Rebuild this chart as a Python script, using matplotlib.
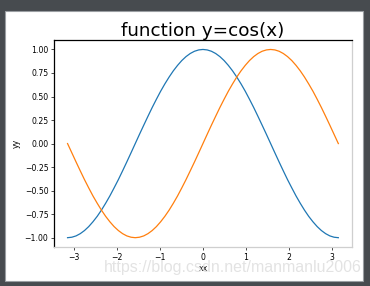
import matplotlib
matplotlib.use("Agg")
import matplotlib.pyplot as plt
from matplotlib.patches import Rectangle

x_vals = [-3.142, -3.043, -2.945, -2.847, -2.749, -2.651, -2.553, -2.454,
          -2.356, -2.258, -2.160, -2.062, -1.963, -1.865, -1.767, -1.669,
          -1.571, -1.473, -1.374, -1.276, -1.178, -1.080, -0.982, -0.884,
          -0.785, -0.687, -0.589, -0.491, -0.393, -0.295, -0.196, -0.098,
          0.000,
          0.098, 0.196, 0.295, 0.393, 0.491, 0.589, 0.687, 0.785,
          0.884, 0.982, 1.080, 1.178, 1.276, 1.374, 1.473, 1.571,
          1.669, 1.767, 1.865, 1.963, 2.062, 2.160, 2.258, 2.356,
          2.454, 2.553, 2.651, 2.749, 2.847, 2.945, 3.043, 3.142]
cos_vals = [-1.000, -0.995, -0.981, -0.957, -0.924, -0.882, -0.831, -0.773,
            -0.707, -0.634, -0.556, -0.471, -0.383, -0.290, -0.195, -0.098,
            0.000, 0.098, 0.195, 0.290, 0.383, 0.471, 0.556, 0.634,
            0.707, 0.773, 0.831, 0.882, 0.924, 0.957, 0.981, 0.995,
            1.000,
            0.995, 0.981, 0.957, 0.924, 0.882, 0.831, 0.773, 0.707,
            0.634, 0.556, 0.471, 0.383, 0.290, 0.195, 0.098, 0.000,
            -0.098, -0.195, -0.290, -0.383, -0.471, -0.556, -0.634, -0.707,
            -0.773, -0.831, -0.882, -0.924, -0.957, -0.981, -0.995, -1.000]
sin_vals = [0.000, -0.098, -0.195, -0.290, -0.383, -0.471, -0.556, -0.634,
            -0.707, -0.773, -0.831, -0.882, -0.924, -0.957, -0.981, -0.995,
            -1.000, -0.995, -0.981, -0.957, -0.924, -0.882, -0.831, -0.773,
            -0.707, -0.634, -0.556, -0.471, -0.383, -0.290, -0.195, -0.098,
            0.000,
            0.098, 0.195, 0.290, 0.383, 0.471, 0.556, 0.634, 0.707,
            0.773, 0.831, 0.882, 0.924, 0.957, 0.981, 0.995, 1.000,
            0.995, 0.981, 0.957, 0.924, 0.882, 0.831, 0.773, 0.707,
            0.634, 0.556, 0.471, 0.383, 0.290, 0.195, 0.098, 0.000]

x_ticks = [-3, -2, -1, 0, 1, 2, 3]
y_ticks = [-1.00, -0.75, -0.50, -0.25, 0.00, 0.25, 0.50, 0.75, 1.00]

fig = plt.figure(figsize=(3.70, 2.86), dpi=100, facecolor="#474b4f")
# white window content with a thin light border, kept behind the axes
fig.patches.append(Rectangle((0.0122, 0.0192), 0.9676, 0.9406,
                             transform=fig.transFigure, facecolor="white",
                             edgecolor="#9a9ea2", linewidth=0.8, zorder=-5))

ax = fig.add_axes([0.146, 0.136, 0.805, 0.724])
ax.set_facecolor("none")
ax.plot(x_vals, cos_vals, color="#1f77b4", linewidth=0.9)
ax.plot(x_vals, sin_vals, color="#ff7f0e", linewidth=0.9)

ax.set_xticks(x_ticks)
ax.set_yticks(y_ticks)
ax.set_yticklabels([f"{v:.2f}".replace("-", "\u2212") for v in y_ticks])
ax.tick_params(labelsize=5.6, length=2.0, width=0.5, pad=2)

ax.set_title("function y=cos(x)", fontsize=13.2, pad=2)
ax.set_xlabel("xx", fontsize=5.6, labelpad=2)
ax.set_ylabel("yy", fontsize=5.6, labelpad=3)

for side in ["top", "left"]:
    ax.spines[side].set_color("black")
    ax.spines[side].set_linewidth(0.9)
for side in ["bottom", "right"]:
    ax.spines[side].set_color("#cfcfcf")
    ax.spines[side].set_linewidth(0.9)

# blog watermark
fig.text(0.630, 0.066, "https://blog.csdn.net/manmanlu2006", fontsize=11.5,
         family="Liberation Sans", color="#e0e0e0", alpha=0.9,
         ha="center", va="center", zorder=5)

fig.savefig("out.png", dpi=100, facecolor=fig.get_facecolor())
